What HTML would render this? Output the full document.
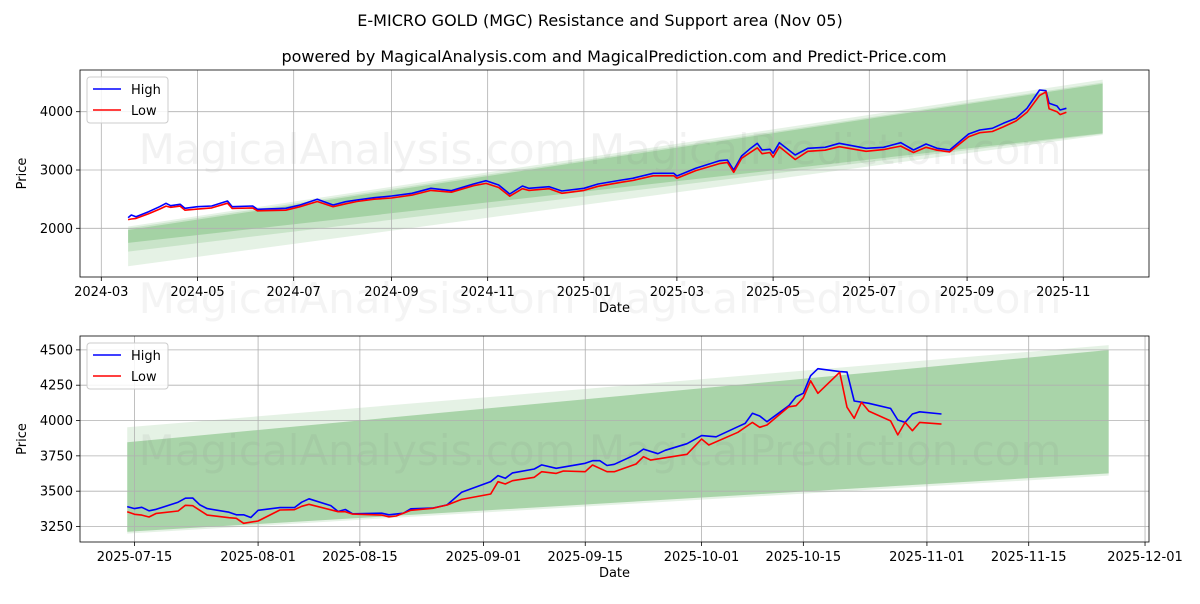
<!DOCTYPE html>
<html><head><meta charset="utf-8"><style>
body{margin:0;background:#fff;width:1200px;height:600px;overflow:hidden;font-family:"DejaVu Sans","Liberation Sans",sans-serif}
svg text{font-family:"DejaVu Sans","Liberation Sans",sans-serif}
</style></head><body>
<svg id="chart" width="1200" height="600" xmlns="http://www.w3.org/2000/svg">
<text x="600" y="26" text-anchor="middle" font-size="16" fill="#000">E-MICRO GOLD (MGC) Resistance and Support area (Nov 05)</text>
<text x="614" y="62" text-anchor="middle" font-size="16" fill="#000">powered by MagicalAnalysis.com and MagicalPrediction.com and Predict-Price.com</text>
<text x="600" y="313" text-anchor="middle" font-size="42" fill="rgba(128,128,128,0.09)">MagicalAnalysis.com   MagicalPrediction.com</text>
</svg>
<script>
// ---- top chart data ----
const topDates=["2024-03-18","2024-03-20","2024-03-23","2024-03-31","2024-04-07","2024-04-11","2024-04-14","2024-04-20","2024-04-23","2024-05-01","2024-05-10","2024-05-20","2024-05-23","2024-06-05","2024-06-08","2024-06-26","2024-07-05","2024-07-16","2024-07-26","2024-08-03","2024-08-10","2024-08-21","2024-09-01","2024-09-14","2024-09-26","2024-10-09","2024-10-23","2024-10-31","2024-11-08","2024-11-15","2024-11-23","2024-11-27","2024-12-10","2024-12-18","2025-01-01","2025-01-10","2025-01-25","2025-02-01","2025-02-14","2025-02-27","2025-03-01","2025-03-13","2025-03-28","2025-04-02","2025-04-06","2025-04-11","2025-04-16","2025-04-21","2025-04-24","2025-04-29","2025-05-01","2025-05-05","2025-05-15","2025-05-23","2025-06-03","2025-06-12","2025-06-29","2025-07-10","2025-07-21","2025-07-29","2025-08-06","2025-08-13","2025-08-21","2025-09-02","2025-09-09","2025-09-17","2025-09-24","2025-10-02","2025-10-09","2025-10-17","2025-10-21","2025-10-23","2025-10-28","2025-10-30","2025-11-03"];
const topHigh=[2182,2228,2199,2285,2371,2428,2388,2412,2343,2371,2382,2468,2371,2382,2326,2343,2400,2497,2400,2456,2485,2525,2554,2600,2686,2645,2760,2817,2743,2588,2726,2686,2714,2640,2686,2760,2828,2857,2943,2943,2897,3029,3160,3172,3000,3240,3355,3458,3343,3355,3286,3468,3257,3372,3389,3458,3372,3389,3468,3343,3446,3372,3343,3617,3686,3715,3801,3887,4058,4372,4360,4144,4098,4029,4058];
const topLow=[2150,2160,2170,2250,2330,2380,2360,2380,2310,2330,2350,2430,2340,2350,2300,2310,2370,2460,2370,2420,2460,2500,2520,2570,2650,2620,2730,2770,2700,2550,2680,2650,2680,2600,2650,2720,2790,2820,2900,2900,2860,2990,3110,3130,2960,3200,3290,3380,3280,3300,3220,3400,3180,3320,3340,3400,3320,3350,3410,3300,3390,3340,3310,3570,3640,3660,3740,3840,3990,4280,4340,4050,4000,3950,3990];
const topBandStart=["2024-03-18"], topBandEnd=["2025-11-26"];
const topBandTop0=[2030,2000,1970], topBandBot0=[1350,1600,1750];
const topBandTop1=[4550,4500,4480], topBandBot1=[3600,3620,3630];
const topYTicks=[2000,3000,4000];
const topXTicks=["2024-03-01","2024-05-01","2024-07-01","2024-09-01","2024-11-01","2025-01-01","2025-03-01","2025-05-01","2025-07-01","2025-09-01","2025-11-01"];
const topXLabels=["2024-03","2024-05","2024-07","2024-09","2024-11","2025-01","2025-03","2025-05","2025-07","2025-09","2025-11"];
// ---- bottom chart data ----
const botHighDates=["2025-07-14","2025-07-15","2025-07-16","2025-07-17","2025-07-18","2025-07-21","2025-07-22","2025-07-23","2025-07-24","2025-07-25","2025-07-28","2025-07-29","2025-07-30","2025-07-31","2025-08-01","2025-08-04","2025-08-06","2025-08-07","2025-08-08","2025-08-11","2025-08-12","2025-08-13","2025-08-14","2025-08-18","2025-08-19","2025-08-21","2025-08-22","2025-08-25","2025-08-27","2025-08-29","2025-09-02","2025-09-03","2025-09-04","2025-09-05","2025-09-08","2025-09-09","2025-09-11","2025-09-15","2025-09-16","2025-09-17","2025-09-18","2025-09-19","2025-09-22","2025-09-23","2025-09-25","2025-09-26","2025-09-29","2025-10-01","2025-10-03","2025-10-06","2025-10-07","2025-10-08","2025-10-09","2025-10-10","2025-10-13","2025-10-14","2025-10-15","2025-10-16","2025-10-17","2025-10-20","2025-10-21","2025-10-22","2025-10-24","2025-10-27","2025-10-28","2025-10-29","2025-10-30","2025-10-31","2025-11-03"];
const botHigh=[3391,3377,3386,3361,3372,3422,3450,3452,3403,3377,3351,3333,3333,3314,3365,3384,3384,3422,3446,3398,3356,3370,3340,3344,3333,3344,3375,3380,3403,3492,3568,3610,3591,3629,3657,3686,3662,3697,3716,3716,3682,3690,3761,3798,3765,3789,3836,3893,3885,3956,3980,4051,4032,3992,4105,4169,4193,4317,4367,4346,4343,4138,4122,4086,4004,3987,4046,4062,4046];
const botLowDates=["2025-07-14","2025-07-15","2025-07-16","2025-07-17","2025-07-18","2025-07-21","2025-07-22","2025-07-23","2025-07-25","2025-07-28","2025-07-29","2025-07-30","2025-08-01","2025-08-04","2025-08-06","2025-08-07","2025-08-08","2025-08-12","2025-08-13","2025-08-14","2025-08-18","2025-08-19","2025-08-20","2025-08-22","2025-08-25","2025-08-27","2025-08-29","2025-09-02","2025-09-03","2025-09-04","2025-09-05","2025-09-08","2025-09-09","2025-09-11","2025-09-12","2025-09-15","2025-09-16","2025-09-18","2025-09-19","2025-09-22","2025-09-23","2025-09-24","2025-09-29","2025-10-01","2025-10-02","2025-10-06","2025-10-08","2025-10-09","2025-10-10","2025-10-13","2025-10-14","2025-10-15","2025-10-16","2025-10-17","2025-10-20","2025-10-21","2025-10-22","2025-10-23","2025-10-24","2025-10-27","2025-10-28","2025-10-29","2025-10-30","2025-10-31","2025-11-03"];
const botLow=[3355,3336,3331,3317,3343,3360,3400,3397,3331,3312,3308,3273,3289,3367,3369,3393,3407,3355,3355,3338,3331,3319,3324,3365,3379,3402,3442,3480,3567,3551,3574,3598,3638,3626,3643,3638,3685,3638,3638,3692,3744,3720,3761,3869,3827,3917,3987,3952,3968,4097,4105,4161,4281,4193,4341,4094,4016,4129,4067,3997,3898,3987,3928,3987,3975];
const botBandStart=["2025-07-14"], botBandEnd=["2025-11-26"];
const botBandTop0=[3952,3846], botBandBot0=[3200,3213];
const botBandTop1=[4534,4499], botBandBot1=[3610,3626];
const botYTicks=[3250,3500,3750,4000,4250,4500];
const botXTicks=["2025-07-15","2025-08-01","2025-08-15","2025-09-01","2025-09-15","2025-10-01","2025-10-15","2025-11-01","2025-11-15","2025-12-01"];

const NS="http://www.w3.org/2000/svg";
const svg=document.getElementById('chart');
const DAY=86400000;
function dnum(s){return Date.parse(s+"T00:00:00Z")/DAY;}
function mk(tag,attrs,parent){const e=document.createElementNS(NS,tag);for(const k in attrs)e.setAttribute(k,attrs[k]);(parent||svg).appendChild(e);return e;}

function panel(cfg){
  const {x0,x1,y0,y1,xs,ys,name}=cfg;
  const g=mk('g',{});
  
  
  for(let i=0;i<cfg.bt0.length;i++){
    const a=dnum(cfg.bs[0]),b=dnum(cfg.be[0]);
    const p=mk('polygon',{points:`${xs(a)},${ys(cfg.bt0[i])} ${xs(b)},${ys(cfg.bt1[i])} ${xs(b)},${ys(cfg.bb1[i])} ${xs(a)},${ys(cfg.bb0[i])}`,fill:'rgb(0,128,0)','fill-opacity':cfg.alpha[i]},g);
    
    
  }
  const wm=mk('text',{x:600,y:cfg.wmy,'text-anchor':'middle','font-size':'42',fill:'rgba(128,128,128,0.1)'},g);
  wm.textContent="MagicalAnalysis.com   MagicalPrediction.com";
  
  
  cfg.yt.forEach(v=>{
    const y=ys(v);
    mk('line',{x1:x0,x2:x1,y1:y,y2:y,stroke:'#b0b0b0','stroke-width':0.8},g);
    mk('line',{x1:x0-4,x2:x0,y1:y,y2:y,stroke:'#000','stroke-width':0.8},g);
    const t=mk('text',{x:x0-7,y:y+4.5,'text-anchor':'end','font-size':'13'},g);t.textContent=v;
    
    
  });
  cfg.xt.forEach((d,i)=>{
    const x=xs(dnum(d));
    mk('line',{x1:x,x2:x,y1:y0,y2:y1,stroke:'#b0b0b0','stroke-width':0.8},g);
    mk('line',{x1:x,x2:x,y1:y1,y2:y1+4,stroke:'#000','stroke-width':0.8},g);
    const t=mk('text',{x:x,y:y1+19,'text-anchor':'middle','font-size':'13'},g);t.textContent=cfg.xl[i];
    
    
  });
  function line(dates,vals,color,nm){
    const pts=dates.map((d,i)=>xs(dnum(d)).toFixed(1)+","+ys(vals[i]).toFixed(1)).join(" ");
    const l=mk('polyline',{points:pts,fill:'none',stroke:color,'stroke-width':1.6,'stroke-linejoin':'round'},g);
    
    
  }
  line(cfg.hd,cfg.h,'#0000ff','high-line');
  line(cfg.ld,cfg.l,'#ff0000','low-line');
  const fr=mk('rect',{x:x0,y:y0,width:x1-x0,height:y1-y0,fill:'none',stroke:'#000','stroke-width':0.8},g);
  
  
  const lg=mk('g',{},g);
  
  
  mk('rect',{x:x0+7,y:y0+7,width:81,height:46,rx:3,fill:'rgba(255,255,255,0.85)',stroke:'#cccccc'},lg);
  [['High','#0000ff'],['Low','#ff0000']].forEach((e,i)=>{
    const yy=y0+19+i*21;
    mk('line',{x1:x0+13,x2:x0+41,y1:yy,y2:yy,stroke:e[1],'stroke-width':1.6},lg);
    const t=mk('text',{x:x0+51,y:yy+5,'font-size':'13'},lg);t.textContent=e[0];
    
    
  });
  const xl=mk('text',{x:(x0+x1)/2,y:y1+35,'text-anchor':'middle','font-size':'13'},g);xl.textContent='Date';
  
  
  const yl=mk('text',{x:0,y:0,'text-anchor':'middle','font-size':'13',transform:`translate(26,${(y0+y1)/2}) rotate(-90)`},g);yl.textContent='Price';
  
  
}

const t0=dnum("2024-03-01"), b0=dnum("2025-07-15");
panel({name:'top-chart',x0:80,x1:1149,y0:70,y1:277,wmy:164,
  xs:d=>101.3+(d-t0)*1.577, ys:v=>228.3-(v-2000)*0.0583,
  bs:topBandStart,be:topBandEnd,bt0:topBandTop0,bb0:topBandBot0,bt1:topBandTop1,bb1:topBandBot1,alpha:[0.1,0.12,0.18],
  yt:topYTicks,xt:topXTicks,xl:topXLabels,hd:topDates,h:topHigh,ld:topDates,l:topLow});
panel({name:'bottom-chart',x0:80,x1:1149,y0:336,y1:542,wmy:465,
  xs:d=>134.5+(d-b0)*7.27, ys:v=>526.5-(v-3250)*0.1413,
  bs:botBandStart,be:botBandEnd,bt0:botBandTop0,bb0:botBandBot0,bt1:botBandTop1,bb1:botBandBot1,alpha:[0.1,0.26],
  yt:botYTicks,xt:botXTicks,xl:botXTicks,hd:botHighDates,h:botHigh,ld:botLowDates,l:botLow});
</script>
</body></html>
